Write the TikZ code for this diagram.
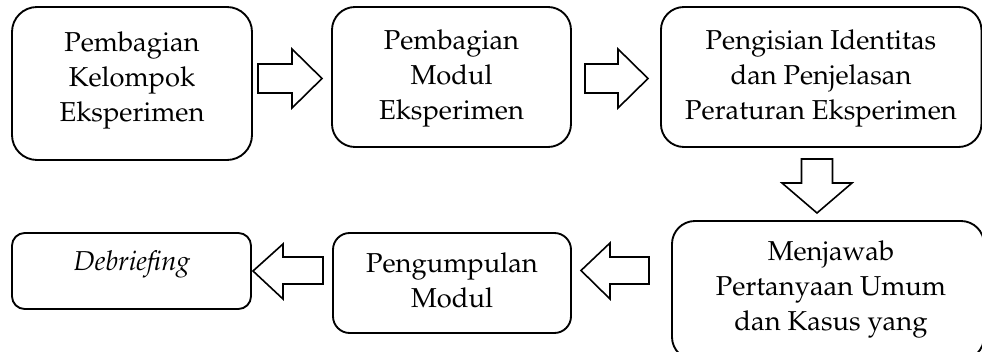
\documentclass[tikz,border=0pt]{standalone}
\usepackage[T1]{fontenc}
\usepackage{mathpazo}
\begin{document}
\begin{tikzpicture}[x=0.75pt,y=-0.75pt,
  box/.style={draw, line width=1.4pt, inner sep=0pt},
  txt/.style={align=center, inner sep=0pt, font=\fontsize{20.5}{26.25}\selectfont},
  blockarr/.style={draw, line width=1.2pt, line join=miter, fill=white}]
\useasboundingbox (0,0) rectangle (982,352);
\clip (0,0) rectangle (982,352);
% boxes
\node[box, minimum width=180pt, minimum height=114.75pt, rounded corners=18.75pt] (b1) at (132,83.5) {};
\node[box, minimum width=179.25pt, minimum height=105pt, rounded corners=17.25pt] (b2) at (451.5,77) {};
\node[box, minimum width=240.4pt, minimum height=105pt, rounded corners=17.25pt] (b3) at (821.2,77) {};
\node[box, minimum width=234pt, minimum height=104.25pt, rounded corners=17.25pt] (b4) at (828,290.5) {};
\node[box, minimum width=178.5pt, minimum height=75pt, rounded corners=12.5pt] (b5) at (452,283) {};
\node[box, minimum width=179.25pt, minimum height=57pt, rounded corners=9.5pt] (b6) at (131.5,271) {};
% texts
\node[txt] (t1) at (132,80) {Pembagian\\Kelompok\\Eksperimen};
\node[txt] (t2) at (451.5,78) {Pembagian\\Modul\\Eksperimen};
\node[txt] (t3) at (821,78) {Pengisian Identitas\\dan Penjelasan\\Peraturan Eksperimen};
\node[txt] (t4) at (831,289) {Menjawab\\Pertanyaan Umum\\dan Kasus yang};
\node[txt] (t5) at (452,280) {Pengumpulan\\Modul};
\node[txt] (t6) at (132,264) {\itshape Debriefing};
% block arrows
\coordinate (a1) at (258,78.5);
\draw[blockarr] (a1) ++(0,-14.5) -- ++(34,0) -- ++(0,-15) -- (322,78.5) -- (292,108) -- ++(0,-15) -- ++(-34,0) -- cycle;
\coordinate (a2) at (585,78.5);
\draw[blockarr] (a2) ++(0,-14.5) -- ++(33,0) -- ++(0,-15) -- (648,78.5) -- (618,108) -- ++(0,-15) -- ++(-33,0) -- cycle;
\coordinate (a3) at (817,159);
\draw[blockarr] (a3) ++(-15.5,0) -- ++(31,0) -- ++(0,24) -- ++(19.5,0) -- (817,213) -- (782,183) -- ++(19.5,0) -- cycle;
\coordinate (a4) at (649,270.5);
\draw[blockarr] (a4) ++(0,-13.5) -- ++(-39,0) -- ++(0,-14) -- (581,270.5) -- (610,299) -- ++(0,-15) -- ++(39,0) -- cycle;
\coordinate (a5) at (323,271);
\draw[blockarr] (a5) ++(0,-14) -- ++(-40,0) -- ++(0,-13) -- (253,271) -- (283,299) -- ++(0,-15) -- ++(40,0) -- cycle;
\end{tikzpicture}
\end{document}
